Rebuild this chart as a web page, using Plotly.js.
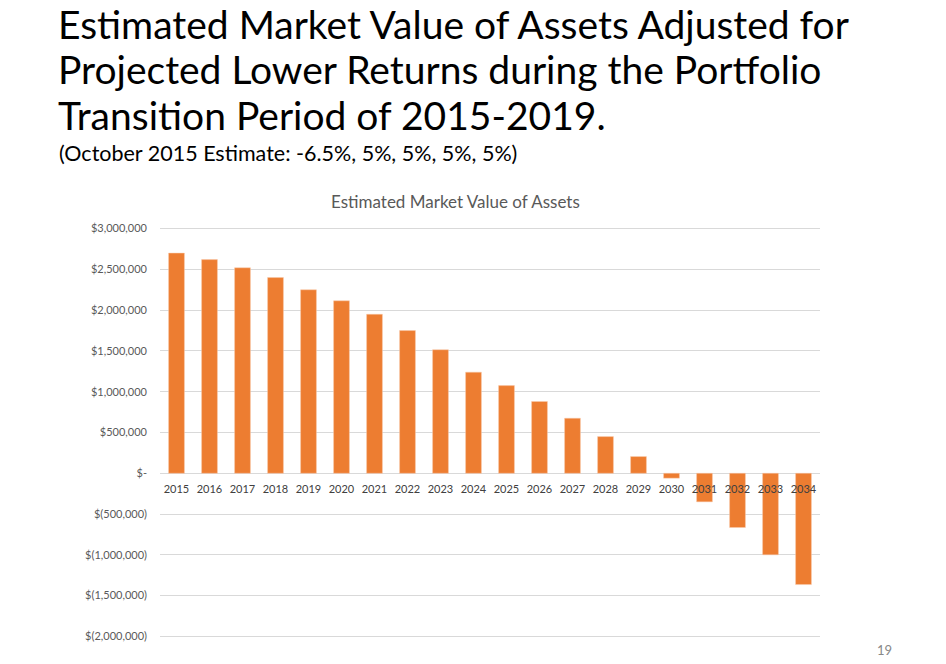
<!DOCTYPE html>
<html>
<head>
<meta charset="utf-8">
<script src="https://cdn.plot.ly/plotly-3.0.1.min.js"></script>
<style>html,body{margin:0;padding:0;background:#fff;}#chart{width:946px;height:664px;}</style>
</head>
<body>
<div id="chart"></div>
<script>
const years = ["2015","2016","2017","2018","2019","2020","2021","2022","2023","2024","2025","2026","2027","2028","2029","2030","2031","2032","2033","2034"];
const marketValue = [2700000,2620000,2520000,2400000,2250000,2115000,1950000,1750000,1515000,1240000,1075000,880000,675000,450000,205000,-60000,-350000,-665000,-1000000,-1365000];
const yTickVals = [3000000,2500000,2000000,1500000,1000000,500000,0,-500000,-1000000,-1500000,-2000000];
const yTickText = ["$3,000,000","$2,500,000","$2,000,000","$1,500,000","$1,000,000","$500,000","$-","$(500,000)","$(1,000,000)","$(1,500,000)","$(2,000,000)"];
const titleLines = ["Estimated Market Value of Assets Adjusted for","Projected Lower Returns during the Portfolio","Transition Period of 2015-2019."];
const subtitle = "(October 2015 Estimate: -6.5%, 5%, 5%, 5%, 5%)";
const chartTitle = "Estimated Market Value of Assets";
const pageNumber = "19";

const W = 946, H = 664, L = 160, R = 820, T = 227.4, B = 637.6;
const yMin = -2020000, yMax = 3020000;
const px = x => (x - L) / (R - L);
const py = y => (B - y) / (B - T);
const FONT = "Lato, 'Open Sans', sans-serif";
const zeroPos = (0 - yMin) / (yMax - yMin);

const annotations = [];
titleLines.forEach((t, i) => {
  annotations.push({text: t, xref: "paper", yref: "paper", x: px(57), y: py(24.5 + i * 45.5),
    xanchor: "left", yanchor: "middle", showarrow: false, borderpad: 0,
    font: {family: FONT, size: 39, color: "#000"}});
});
annotations.push({text: subtitle, xref: "paper", yref: "paper", x: px(57), y: py(154),
  xanchor: "left", yanchor: "middle", showarrow: false, font: {family: FONT, size: 21.5, color: "#000"}});
annotations.push({text: chartTitle, xref: "paper", yref: "paper", x: px(455), y: py(202),
  xanchor: "center", yanchor: "middle", showarrow: false, font: {family: FONT, size: 17, color: "#595959"}});
annotations.push({text: pageNumber, xref: "paper", yref: "paper", x: px(884), y: py(650),
  xanchor: "center", yanchor: "middle", showarrow: false, font: {family: FONT, size: 13, color: "#888"}});

Plotly.newPlot("chart", [{
  type: "bar", x: years, y: marketValue,
  marker: {color: "#ED7D31", line: {color: "#F8CBAD", width: 0.5}},
  hoverinfo: "x+y"
}], {
  width: W, height: H,
  margin: {l: L, r: W - R, t: T, b: H - B, pad: 0},
  paper_bgcolor: "#fff", plot_bgcolor: "#fff",
  showlegend: false, bargap: 0.52,
  xaxis: {type: "category", anchor: "free", position: zeroPos, showgrid: false, zeroline: false,
    showline: false, ticks: "", ticklen: 0, ticklabelstandoff: 8,
    tickfont: {family: FONT, size: 11, color: "#404040"}, tickangle: 0},
  yaxis: {range: [yMin, yMax], tickvals: yTickVals, ticktext: yTickText,
    showgrid: true, gridcolor: "#D9D9D9", gridwidth: 1, zeroline: true, zerolinecolor: "#D9D9D9",
    zerolinewidth: 1, showline: false, ticks: "", ticklabelstandoff: 12,
    tickfont: {family: FONT, size: 11, color: "#595959"}},
  annotations: annotations
}, {displayModeBar: false, staticPlot: true});
</script>
</body>
</html>
